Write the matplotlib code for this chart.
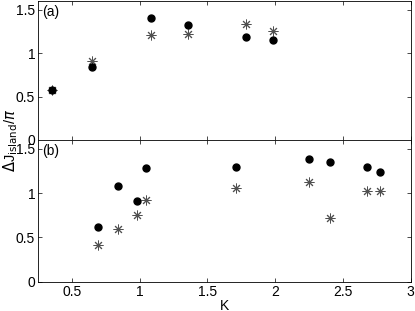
import matplotlib
matplotlib.use("Agg")
import matplotlib.pyplot as plt

plt.rcParams['font.family'] = ['Liberation Sans', 'DejaVu Sans']
plt.rcParams['font.size'] = 10

# panel (a)
k_a = [0.356, 0.646, 1.086, 1.356, 1.782, 1.981]
dots_a = [0.575, 0.836, 1.40, 1.318, 1.18, 1.149]
stars_a = [0.575, 0.905, 1.21, 1.222, 1.33, 1.249]

# panel (b)
k_b = [0.695, 0.84, 0.98, 1.05, 1.713, 2.249, 2.404, 2.679, 2.772]
dots_b = [0.62, 1.08, 0.91, 1.28, 1.30, 1.39, 1.35, 1.30, 1.24]
stars_b = [0.41, 0.60, 0.75, 0.92, 1.06, 1.12, 0.72, 1.02, 1.02]

fig = plt.figure(figsize=(4.15, 3.11), dpi=100)
ax1 = fig.add_axes([0.0916, 0.55, 0.898, 0.447])
ax2 = fig.add_axes([0.0916, 0.094, 0.898, 0.456])

for ax, k, d, s, lab in [(ax1, k_a, dots_a, stars_a, '(a)'), (ax2, k_b, dots_b, stars_b, '(b)')]:
    ax.plot(k, s, linestyle='none', marker=(8, 2, 0), markersize=7,
            markeredgewidth=0.7, color='#505050')
    ax.plot(k, d, linestyle='none', marker='o', markersize=5, color='black')
    ax.set_xlim(0.25, 3)
    ax.set_ylim(0, 1.6)
    ax.set_yticks([0, 0.5, 1, 1.5])
    ax.set_yticklabels(['0', '0.5', '1', '1.5'])
    ax.set_xticks([0.5, 1, 1.5, 2, 2.5, 3])
    ax.tick_params(direction='in', length=3, width=0.5, top=True, right=True, pad=2)
    for sp in ax.spines.values():
        sp.set_linewidth(0.6)
    ax.text(0.012, 0.97, lab, transform=ax.transAxes, ha='left', va='top', fontsize=10)

ax1.set_xticklabels([])
ax2.set_xticklabels(['0.5', '1', '1.5', '2', '2.5', '3'])
ax2.set_xlabel('K', labelpad=0)
fig.text(0.025, 0.55, r'$\Delta$J$_{\rm island}$/$\pi$', rotation=90,
         ha='center', va='center', fontsize=10.5)

fig.savefig('out.png', dpi=100)
